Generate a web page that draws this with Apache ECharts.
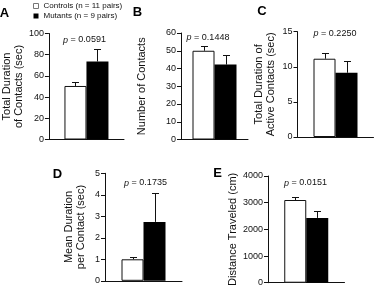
<!DOCTYPE html>
<html>
<head>
<meta charset="utf-8">
<title>Contacts</title>
<script type="text/javascript" src="https://cdn.jsdelivr.net/npm/echarts@6/dist/echarts.min.js"></script>
<style type="text/css">
    html, body { margin: 0; padding: 0; background: #fff; }
</style>
</head>
<body>
<div id="main" style="width: 375px;height:288px;"></div>
<script type="text/javascript">
    // data
    var panelLetters = ['A', 'B', 'C', 'D', 'E'];
    var controlMeans = [50.5, 50, 11.15, 1.0, 3100];
    var controlErrs = [3.5, 2.7, 0.75, 0.12, 105];
    var mutantMeans = [73.6, 42.2, 9.15, 2.74, 2430];
    var mutantErrs = [11.8, 5.4, 1.65, 1.35, 270];
    var pValues = ['0.0591', '0.1448', '0.2250', '0.1735', '0.0151'];
    var yMax = [100, 60, 15, 5, 4000];
    var yStep = [20, 10, 5, 1, 1000];
    var yNames = [
        'Total Duration\nof Contacts (sec)',
        'Number of Contacts',
        'Total Duration of\nActive Contacts (sec)',
        'Mean Duration\nper Contact (sec)',
        'Distance Traveled (cm)'
    ];
    var controlName = 'Controls (n = 11 pairs)';
    var mutantName = 'Mutants (n = 9 pairs)';

    // layout of each panel (pixels)
    var grids = [
        {left: 43, top: 33.5, width: 81, height: 106},
        {left: 181, top: 33, width: 67, height: 106.5},
        {left: 297.5, top: 31.7, width: 76, height: 105.3},
        {left: 105, top: 173.3, width: 77, height: 107.5},
        {left: 268, top: 176, width: 76.5, height: 107.5}
    ];
    var nameGaps = [18, 33, 21, 18, 19];
    var letterPos = [[4.5, 13], [137.5, 12], [262, 11.5], [57.5, 174], [217.5, 173]];
    var pPos = [[84.5, 40], [208, 37.5], [335, 33.5], [145.5, 183], [305.5, 183]];

    var font = '"Liberation Sans", Arial, Helvetica, sans-serif';
    var ink = '#111';
    var barW = 22;

    var myChart = echarts.init(document.getElementById('main'));

    function errorItem(side) {
        return function (params, api) {
            var base = api.coord([0, api.value(1)]);
            var top = api.coord([0, api.value(1) + api.value(2)]);
            var x = Math.round(base[0] + side * barW / 2) + 0.5;
            var y = Math.round(top[1]) + 0.5;
            return {
                type: 'group',
                children: [
                    {type: 'line', shape: {x1: x, y1: base[1], x2: x, y2: y}, style: {stroke: ink, lineWidth: 1}},
                    {type: 'line', shape: {x1: x - 3.5, y1: y, x2: x + 3.5, y2: y}, style: {stroke: ink, lineWidth: 1}}
                ]
            };
        };
    }

    var gridList = [], xAxes = [], yAxes = [], series = [], graphics = [];
    for (var i = 0; i < panelLetters.length; i++) {
        gridList.push(grids[i]);
        xAxes.push({
            type: 'category', gridIndex: i, data: [''],
            axisLine: {lineStyle: {color: ink, width: 1}},
            axisTick: {show: false}, axisLabel: {show: false}
        });
        yAxes.push({
            type: 'value', gridIndex: i, min: 0, max: yMax[i], interval: yStep[i],
            name: yNames[i], nameLocation: 'middle', nameGap: nameGaps[i],
            nameTextStyle: {fontFamily: font, fontSize: 11, lineHeight: 12, color: ink},
            axisLine: {show: true, lineStyle: {color: ink, width: 1}},
            axisTick: {show: true, length: 4, lineStyle: {color: ink}},
            axisLabel: {fontFamily: font, fontSize: 9, color: ink, margin: 5,
                        formatter: function (v) { return String(v); }},
            splitLine: {show: false}
        });
        series.push({
            name: controlName, type: 'bar', xAxisIndex: i, yAxisIndex: i,
            barWidth: barW, barGap: '0%',
            itemStyle: {color: '#fff', borderColor: ink, borderWidth: 1},
            data: [controlMeans[i]]
        });
        series.push({
            name: mutantName, type: 'bar', xAxisIndex: i, yAxisIndex: i,
            barWidth: barW, barGap: '0%',
            itemStyle: {color: '#000'},
            data: [mutantMeans[i]]
        });
        series.push({
            type: 'custom', xAxisIndex: i, yAxisIndex: i, z: 5,
            renderItem: errorItem(-1),
            data: [[0, controlMeans[i], controlErrs[i]]]
        });
        series.push({
            type: 'custom', xAxisIndex: i, yAxisIndex: i, z: 5,
            renderItem: errorItem(1),
            data: [[0, mutantMeans[i], mutantErrs[i]]]
        });
        // panel letter
        graphics.push({
            type: 'text', x: letterPos[i][0], y: letterPos[i][1],
            style: {text: panelLetters[i], font: 'bold 13px ' + font, fill: '#000',
                    textAlign: 'center', textVerticalAlign: 'middle'}
        });
        // p value
        graphics.push({
            type: 'text', x: pPos[i][0], y: pPos[i][1],
            style: {
                text: '{i|p} = ' + pValues[i],
                font: '9px ' + font, fill: ink,
                textAlign: 'center', textVerticalAlign: 'middle',
                rich: {i: {fontStyle: 'italic', fontFamily: font, fontSize: 9, fill: ink}}
            }
        });
    }

    var option = {
        animation: false,
        backgroundColor: '#fff',
        legend: {
            orient: 'vertical', left: 33, top: 1, padding: 0,
            itemWidth: 5, itemHeight: 5, itemGap: 0, icon: 'rect', selectedMode: false,
            textStyle: {fontFamily: font, fontSize: 8, lineHeight: 10, color: ink},
            data: [
                {name: controlName, itemStyle: {color: '#fff', borderColor: '#777', borderWidth: 1}},
                {name: mutantName, itemStyle: {color: '#000'}}
            ]
        },
        grid: gridList,
        xAxis: xAxes,
        yAxis: yAxes,
        series: series,
        graphic: graphics
    };

    myChart.setOption(option);
</script>
</body>
</html>
